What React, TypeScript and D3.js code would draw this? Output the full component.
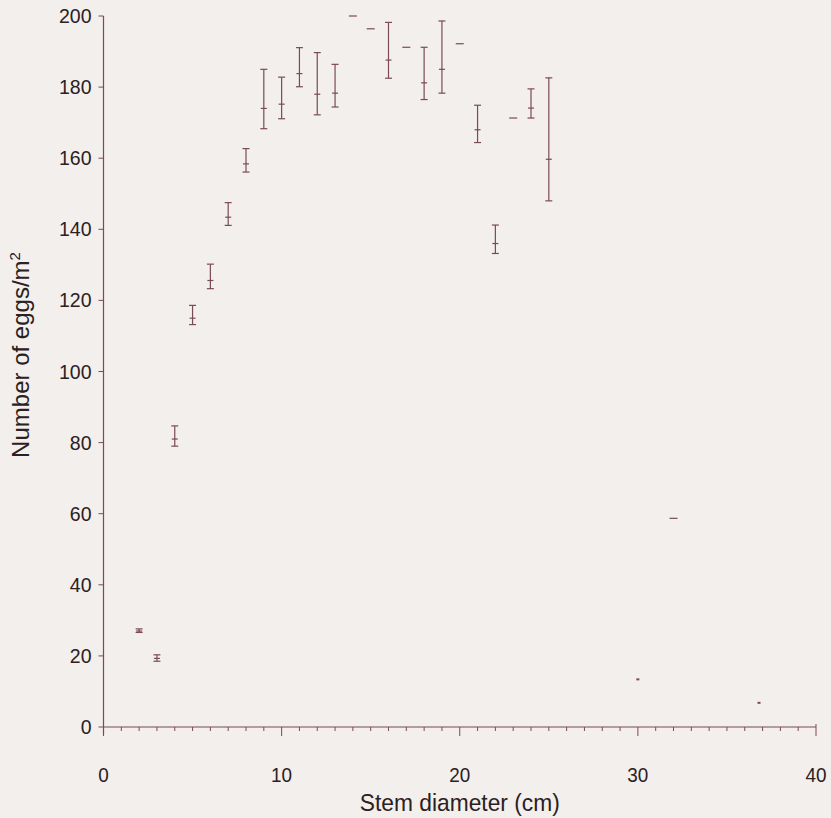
import * as d3 from "d3";

// stem diameter classes with mean and +/- range
const diam = [2, 3, 4, 5, 6, 7, 8, 9, 10, 11, 12, 13, 16, 18, 19, 21, 22, 24, 25];
const mean = [27, 19.3, 81, 115, 125.6, 143.4, 158.4, 174, 175.2, 183.8, 178, 178.3, 187.6, 181.2, 185, 168, 136, 174.1, 159.7];
const lower = [26.6, 18.5, 79, 113.2, 123.3, 141.1, 156.1, 168.3, 171.1, 180.1, 172.2, 174.4, 182.5, 176.5, 178.3, 164.4, 133.2, 171.3, 148];
const upper = [27.6, 20.3, 84.7, 118.6, 130.2, 147.5, 162.7, 185, 182.8, 191.1, 189.7, 186.4, 198.2, 191.2, 198.6, 174.9, 141.2, 179.5, 182.6];

// single observations (drawn as a short dash)
const dashX = [14, 15, 17, 20, 23, 32];
const dashY = [200, 196.4, 191.2, 192.2, 171.3, 58.7];

// tiny single points
const dotX = [30, 36.8];
const dotY = [13.4, 6.8];

const yTicks = [0, 20, 40, 60, 80, 100, 120, 140, 160, 180, 200];
const xTicks = [0, 10, 20, 30, 40];

const ink = "#7a4a55";
const textColor = "#2b2022";
const font = "Liberation Sans, Arial, Helvetica, sans-serif";

export default function App() {
  const margin = { top: 16, left: 103.5, right: 15, bottom: 91 };
  const W = 831;
  const H = 818;
  const width = W - margin.left - margin.right;
  const height = H - margin.top - margin.bottom;

  const x = d3.scaleLinear().domain([0, 40]).range([0, width]);
  const y = d3.scaleLinear().domain([0, 200]).range([height, 0]);
  const minor = d3.range(0, 41, 1);
  const cap = 3.5;

  return (
    <div style={{ position: "fixed", inset: 0, background: "#f3efec" }}>
      <svg width={W} height={H} style={{ display: "block" }}>
        <rect width={W} height={H} fill="#f3efec" />
        <g transform={`translate(${margin.left},${margin.top})`}>
          {/* y axis */}
          <line x1={0} x2={0} y1={y(200)} y2={y(0) + 8} stroke={ink} strokeWidth={1.2} />
          {yTicks.map((t) => (
            <g key={`yt-${t}`} transform={`translate(0,${y(t)})`}>
              <line x1={-5} x2={0} stroke={ink} strokeWidth={1} />
              <text x={-12} dy="0.36em" textAnchor="end" fontFamily={font} fontSize={19.5} fill={textColor}>
                {t}
              </text>
            </g>
          ))}

          {/* x axis */}
          <line x1={0} x2={x(40)} y1={height} y2={height} stroke={ink} strokeWidth={1.2} />
          {minor.map((t) => (
            <line
              key={`xm-${t}`}
              x1={x(t)}
              x2={x(t)}
              y1={t === 40 ? height - 3 : height}
              y2={height + (t % 10 === 0 ? 9 : 4)}
              stroke={ink}
              strokeWidth={1}
            />
          ))}
          {xTicks.map((t) => (
            <text
              key={`xt-${t}`}
              transform={`translate(${x(t)},${height + 55}) scale(0.9,1)`}
              textAnchor="middle"
              fontFamily={font}
              fontSize={21}
              fill={textColor}
            >
              {t}
            </text>
          ))}

          {/* error bars */}
          {diam.map((d, i) => (
            <g key={`eb-${d}`} stroke={ink} strokeWidth={1.2}>
              <line x1={x(d)} x2={x(d)} y1={y(lower[i])} y2={y(upper[i])} />
              <line x1={x(d) - cap} x2={x(d) + cap} y1={y(lower[i])} y2={y(lower[i])} />
              <line x1={x(d) - cap} x2={x(d) + cap} y1={y(upper[i])} y2={y(upper[i])} />
              <line x1={x(d) - 3} x2={x(d) + 3} y1={y(mean[i])} y2={y(mean[i])} />
            </g>
          ))}

          {dashX.map((d, i) => (
            <line
              key={`ds-${d}`}
              x1={x(d) - 4}
              x2={x(d) + 4}
              y1={y(dashY[i])}
              y2={y(dashY[i])}
              stroke={ink}
              strokeWidth={1.2}
            />
          ))}

          {dotX.map((d, i) => (
            <rect key={`dt-${d}`} x={x(d) - 1.5} y={y(dotY[i]) - 1} width={3} height={2} fill={ink} />
          ))}
        </g>

        <text
          transform={`translate(${margin.left + x(20)},811) scale(0.95,1)`}
          textAnchor="middle"
          fontFamily={font}
          fontSize={24}
          fill={textColor}
        >
          Stem diameter (cm)
        </text>
        <text
          transform={`translate(29,355) rotate(-90)`}
          textAnchor="middle"
          fontFamily={font}
          fontSize={24}
          fill={textColor}
        >
          Number of eggs/m
          <tspan dy={-9} fontSize={15}>2</tspan>
        </text>
      </svg>
    </div>
  );
}
